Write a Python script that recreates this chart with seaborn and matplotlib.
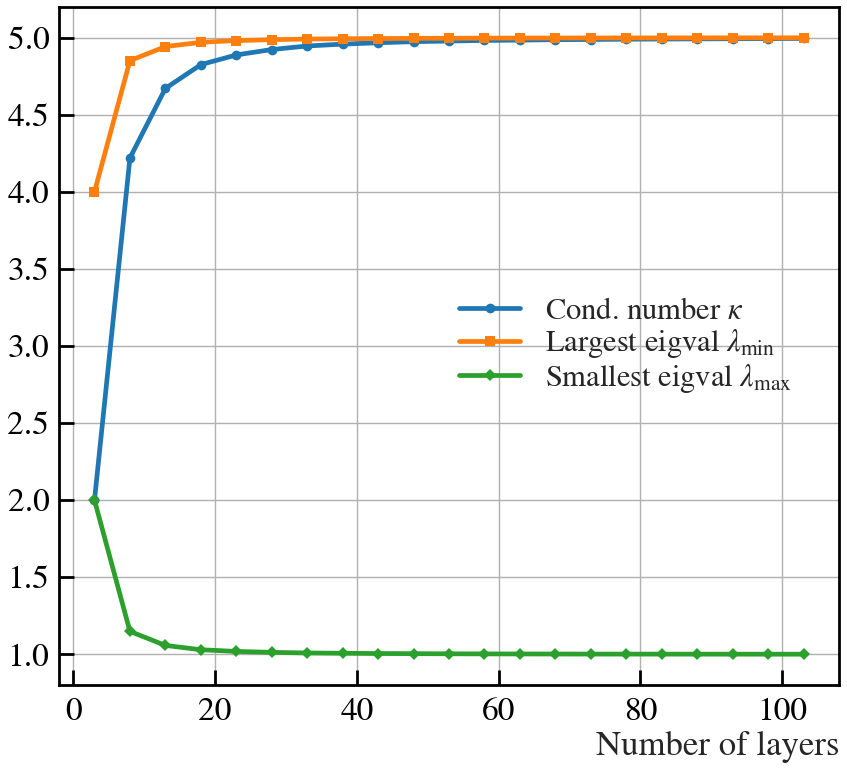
import numpy as np
import pandas as pd
import seaborn as sns
import matplotlib
matplotlib.use("Agg")
import matplotlib.pyplot as plt

layers = [3, 8, 13, 18, 23, 28, 33, 38, 43, 48, 53, 58, 63, 68, 73, 78, 83, 88, 93, 98, 103]
cond_number = [2.0, 4.22, 4.671, 4.825, 4.888, 4.923, 4.946, 4.958, 4.967, 4.974, 4.978,
               4.982, 4.984, 4.987, 4.988, 4.990, 4.991, 4.992, 4.993, 4.994, 4.995]
largest = [4.0, 4.851, 4.942, 4.970, 4.981, 4.987, 4.991, 4.993, 4.9945, 4.9955, 4.9963,
           4.997, 4.9974, 4.9978, 4.9981, 4.9983, 4.9985, 4.9987, 4.9988, 4.9989, 4.999]
smallest = [2.0, 1.149, 1.058, 1.030, 1.019, 1.013, 1.009, 1.007, 1.0055, 1.0045, 1.0037,
            1.003, 1.0026, 1.0022, 1.0019, 1.0017, 1.0015, 1.0013, 1.0012, 1.0011, 1.001]

labels = [r"Cond. number $\kappa$", r"Largest eigval $\lambda_{\min}$", r"Smallest eigval $\lambda_{\max}$"]
colors = ["#1f77b4", "#ff7f0e", "#2ca02c"]
markers = ["o", "s", "D"]
msizes = [7, 7, 6]

sns.set_style("whitegrid")
plt.rcParams["font.family"] = ["STIXGeneral", "Liberation Serif", "DejaVu Serif"]
plt.rcParams["mathtext.fontset"] = "stix"
plt.rcParams["font.size"] = 24

fig, ax = plt.subplots(figsize=(8.47, 7.69), dpi=100)
fig.subplots_adjust(left=0.0697, right=0.9906, top=0.9909, bottom=0.1092)

for vals, lab, c, m, ms in zip([cond_number, largest, smallest], labels, colors, markers, msizes):
    df = pd.DataFrame({"layers": layers, "value": vals})
    sns.lineplot(data=df, x="layers", y="value", ax=ax, color=c, marker=m, markersize=ms,
                 linewidth=3.4, markeredgewidth=0, label=lab)

ax.set_xticks([0, 20, 40, 60, 80, 100])
ax.set_yticks([1.0, 1.5, 2.0, 2.5, 3.0, 3.5, 4.0, 4.5, 5.0])
ax.set_yticklabels(["1.0", "1.5", "2.0", "2.5", "3.0", "3.5", "4.0", "4.5", "5.0"])
ax.grid(True, color="#b0b0b0", linewidth=1.0)
for s in ax.spines.values():
    s.set_color("black")
    s.set_linewidth(2.0)
ax.tick_params(axis="both", direction="in", length=11, width=2.0, labelsize=24,
               colors="black", left=True, bottom=True)
ax.tick_params(axis="y", pad=7)
ax.tick_params(axis="x", pad=9)
ax.set_xlabel("Number of layers", loc="right", fontsize=25, labelpad=3)
ax.set_ylabel("")
leg = ax.legend(loc="center right", bbox_to_anchor=(0.975, 0.5), frameon=False, fontsize=22,
                handlelength=2.0, labelspacing=0.05, handletextpad=0.8)
fig.savefig("out.png", dpi=100)
